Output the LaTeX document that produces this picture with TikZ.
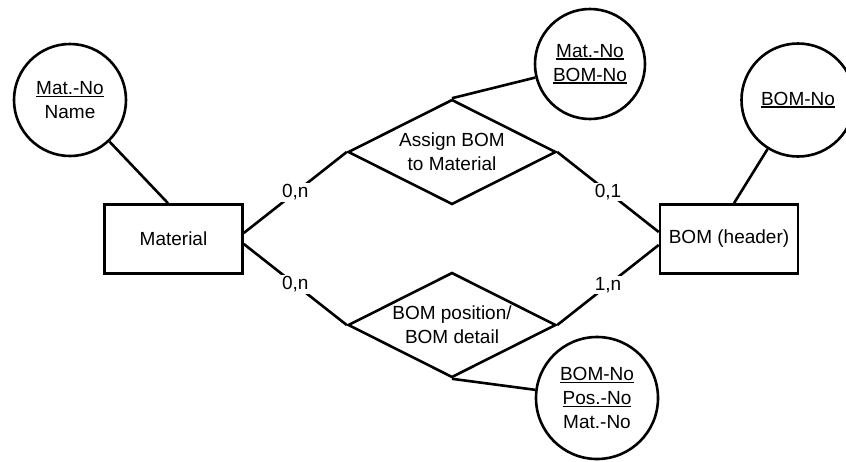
\documentclass[tikz,border=0pt]{standalone}
\usepackage{fontspec}
\setmainfont{Liberation Sans}
\usetikzlibrary{shapes.geometric}
\newcommand\ulx[1]{\setbox0\hbox{#1}\rlap{\rule[-2.6pt]{\wd0}{1.5pt}}\box0}
\begin{document}
\begin{tikzpicture}[x=1pt,y=-1pt,
  every node/.style={font=\fontsize{19}{24}\selectfont},
  ent/.style={draw, line width=2.6pt, minimum width=138pt, minimum height=69pt, inner sep=0pt},
  rel/.style={draw, diamond, line width=2.6pt, minimum width=208pt, minimum height=105pt, inner sep=0pt, aspect=2, align=center},
  att/.style={draw, circle, line width=2.6pt, inner sep=0pt, align=center},
  card/.style={fill=white, inner sep=1.5pt},
  conn/.style={line width=2.6pt}]
\useasboundingbox (0,0) rectangle (846,461);
% entities
\node[ent] (mat) at (173.5,239) {Material};
\node[ent] (bom) at (729,239) {BOM (header)};
% relationships
\node[rel] (assign) at (452,152) {Assign BOM\\to Material};
\node[rel] (pos) at (452,325) {BOM position/\\BOM detail};
% attributes
\node[att, minimum size=112pt] (amat) at (70,100) {\ulx{Mat.-No}\\Name};
\node[att, minimum size=110pt] (aassign) at (590,64) {\ulx{Mat.-No}\\\ulx{BOM-No}};
\node[att, minimum size=113pt] (abom) at (798,100) {\ulx{BOM-No}};
\node[att, minimum size=122pt] (apos) at (597,398) {\ulx{BOM-No}\\\ulx{Pos.-No}\\Mat.-No};
% attribute links
\draw[conn] (amat) -- ([xshift=-5.5pt]mat.north);
\draw[conn] (aassign) -- (assign.north);
\draw[conn] (abom) -- ([xshift=5pt]bom.north);
\draw[conn] (apos) -- (pos.south);
% relationship links
\draw[conn] ([yshift=6pt]mat.east) -- node[card] {0,n} (assign.west);
\draw[conn] ([yshift=-5pt]mat.east) -- node[card] {0,n} (pos.west);
\draw[conn] (assign.east) -- node[card] {0,1} ([yshift=7pt]bom.west);
\draw[conn] (pos.east) -- node[card] {1,n} ([yshift=-6pt]bom.west);
\end{tikzpicture}
\end{document}
